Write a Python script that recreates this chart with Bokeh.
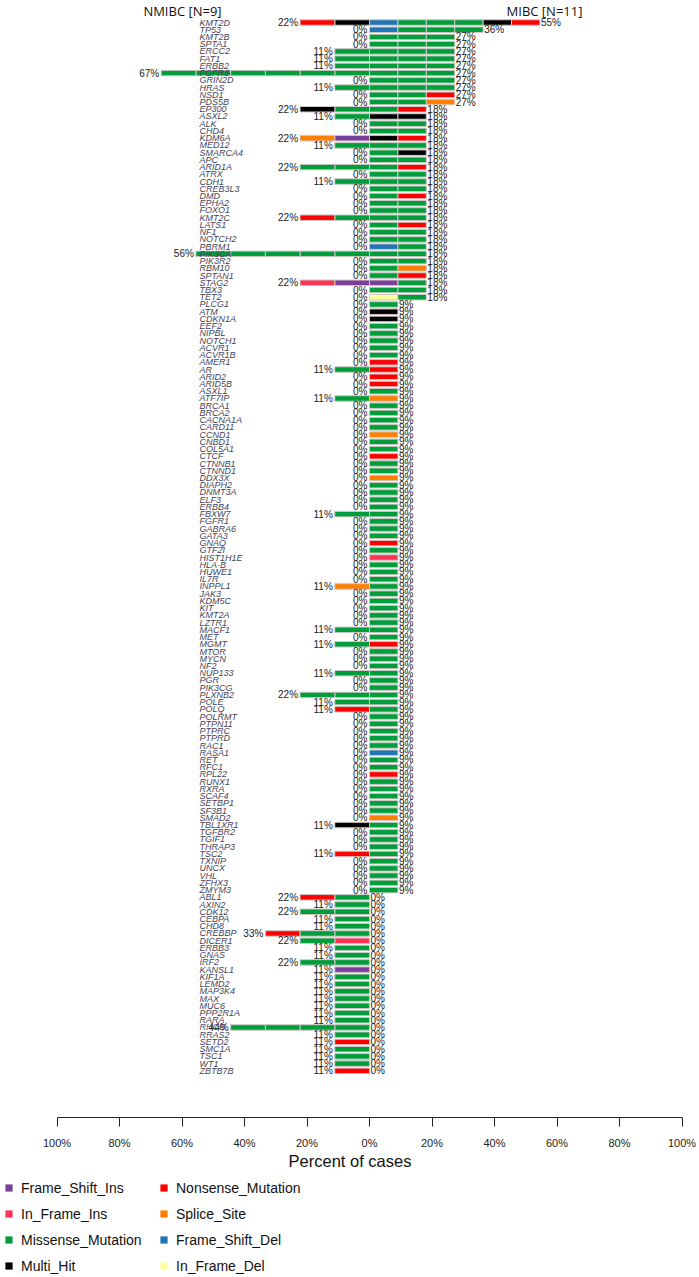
from bokeh.plotting import figure
from bokeh.layouts import column
from bokeh.models import ColumnDataSource, Range1d, LinearAxis, FixedTicker, Legend, LegendItem
from bokeh.core.properties import value
from bokeh.embed import file_html
from bokeh.resources import INLINE

# ---------------- data ----------------
genes = ["KMT2D", "TP53", "KMT2B", "SPTA1", "ERCC2", "FAT1", "ERBB2", "FGFR3", "GRIN2D", "HRAS", "NSD1", "PDS5B",
         "EP300", "ASXL2", "ALK", "CHD4", "KDM6A", "MED12", "SMARCA4", "APC", "ARID1A", "ATRX", "CDH1", "CREB3L3",
         "DMD", "EPHA2", "FOXO1", "KMT2C", "LATS1", "NF1", "NOTCH2", "PBRM1", "PIK3CA", "PIK3R2", "RBM10", "SPTAN1",
         "STAG2", "TBX3", "TET2", "PLCG1", "ATM", "CDKN1A", "EEF2", "NIPBL", "NOTCH1", "ACVR1", "ACVR1B", "AMER1",
         "AR", "ARID2", "ARID5B", "ASXL1", "ATF7IP", "BRCA1", "BRCA2", "CACNA1A", "CARD11", "CCND1", "CNBD1", "COL5A1",
         "CTCF", "CTNNB1", "CTNND1", "DDX3X", "DIAPH2", "DNMT3A", "ELF3", "ERBB4", "FBXW7", "FGFR1", "GABRA6", "GATA3",
         "GNAQ", "GTF2I", "HIST1H1E", "HLA-B", "HUWE1", "IL7R", "INPPL1", "JAK3", "KDM5C", "KIT", "KMT2A", "LZTR1",
         "MACF1", "MET", "MGMT", "MTOR", "MYCN", "NF2", "NUP133", "PGR", "PIK3CG", "PLXNB2", "POLE", "POLQ",
         "POLRMT", "PTPN11", "PTPRC", "PTPRD", "RAC1", "RASA1", "RET", "RFC1", "RPL22", "RUNX1", "RXRA", "SCAF4",
         "SETBP1", "SF3B1", "SMAD2", "TBL1XR1", "TGFBR2", "TGIF1", "THRAP3", "TSC2", "TXNIP", "UNCX", "VHL", "ZFHX3",
         "ZMYM3", "ABL1", "AXIN2", "CDK12", "CEBPA", "CHD8", "CREBBP", "DICER1", "ERBB3", "GNAS", "IRF2", "KANSL1",
         "KIF1A", "LEMD2", "MAP3K4", "MAX", "MUC6", "PPP2R1A", "RARA", "RHOB", "RRAS2", "SETD2", "SMC1A", "TSC1", "WT1", "ZBTB7B"]

# one letter per mutated sample, listed from the centre outwards
# G Missense, R Nonsense, K Multi_Hit, B Frame_Shift_Del, O Splice_Site, P Frame_Shift_Ins, I In_Frame_Ins, Y In_Frame_Del
nmibc = ["KR", "", "", "", "G", "G", "G", "GGGGGG", "", "G", "", "",
         "GK", "G", "", "", "PO", "G", "", "", "GG", "", "G", "",
         "", "", "", "GR", "", "", "", "", "GGGGG", "", "", "",
         "PI", "", "", "", "", "", "", "", "", "", "", "",
         "G", "", "", "", "G", "", "", "", "", "", "", "",
         "", "", "", "", "", "", "", "", "G", "", "", "",
         "", "", "", "", "", "", "O", "", "", "", "", "",
         "G", "", "G", "", "", "", "G", "", "", "GG", "G", "R",
         "", "", "", "", "", "", "", "", "", "", "", "",
         "", "", "", "K", "", "", "", "R", "", "", "", "",
         "", "GR", "G", "GG", "G", "G", "GGR", "IG", "G", "G", "GG", "P",
         "G", "G", "G", "G", "G", "G", "G", "GGGG", "G", "R", "G", "G", "G", "R"]

mibc = ["BGGGKR", "BGGG", "GGG", "GGG", "GGG", "GGG", "GGG", "GGG", "GGG", "GGG", "GGR", "GGO",
        "GR", "KK", "GG", "GG", "KR", "GG", "GK", "GG", "GR", "GG", "GG", "GG",
        "GR", "GG", "GG", "GG", "GR", "GG", "GG", "BG", "GG", "GG", "GO", "GR",
        "PG", "GG", "YG", "G", "K", "K", "G", "G", "G", "G", "G", "R",
        "R", "R", "R", "G", "O", "G", "G", "G", "G", "O", "G", "G",
        "R", "G", "G", "O", "G", "G", "G", "G", "G", "G", "G", "G",
        "R", "G", "I", "G", "G", "G", "G", "G", "G", "G", "G", "G",
        "G", "G", "R", "G", "G", "G", "G", "G", "G", "G", "G", "G",
        "G", "G", "G", "G", "G", "B", "G", "G", "R", "G", "G", "G",
        "G", "G", "O", "G", "G", "G", "G", "G", "G", "G", "G", "G",
        "G", "", "", "", "", "", "", "", "", "", "", "",
        "", "", "", "", "", "", "", "", "", "", "", "", "", ""]

N_NMIBC = 9
N_MIBC = 11

code_type = {"P": "Frame_Shift_Ins", "I": "In_Frame_Ins", "G": "Missense_Mutation", "K": "Multi_Hit",
             "R": "Nonsense_Mutation", "O": "Splice_Site", "B": "Frame_Shift_Del", "Y": "In_Frame_Del"}
legend_order = ["Frame_Shift_Ins", "In_Frame_Ins", "Missense_Mutation", "Multi_Hit",
                "Nonsense_Mutation", "Splice_Site", "Frame_Shift_Del", "In_Frame_Del"]
type_color = {"Frame_Shift_Ins": "#7B3F9B", "In_Frame_Ins": "#FF3355", "Missense_Mutation": "#009E3A",
              "Multi_Hit": "#000000", "Nonsense_Mutation": "#FF0000", "Splice_Site": "#FF7F00",
              "Frame_Shift_Del": "#1F75B5", "In_Frame_Del": "#FFFF99"}

tick_values = [-100, -80, -60, -40, -20, 0, 20, 40, 60, 80, 100]
tick_labels = ["100%", "80%", "60%", "40%", "20%", "0%", "20%", "40%", "60%", "80%", "100%"]

# ---------------- layout constants ----------------
ROW_PX = 7.23
FRAME_W, FRAME_H = 699, 1117
X_ZERO_PX = 369
PX_PER_PCT = 3.125
TOP_PAD_ROWS = 22 / ROW_PX
GENE_LABEL_PX = 199
FONT = "Liberation Sans"

p = figure(frame_width=FRAME_W, frame_height=FRAME_H,
           x_range=Range1d(-X_ZERO_PX / PX_PER_PCT, (FRAME_W - X_ZERO_PX) / PX_PER_PCT),
           y_range=Range1d(FRAME_H / ROW_PX - TOP_PAD_ROWS, -TOP_PAD_ROWS),
           x_axis_type=None, y_axis_type=None, output_backend="svg", toolbar_location=None,
           min_border=0, outline_line_color=None)

# segments
seg = dict(y=[], left=[], right=[], color=[])
wn = 100.0 / N_NMIBC
wm = 100.0 / N_MIBC
for i in range(len(genes)):
    for j, c in enumerate(nmibc[i]):
        seg["y"].append(i); seg["left"].append(-(j + 1) * wn); seg["right"].append(-j * wn)
        seg["color"].append(type_color[code_type[c]])
    for j, c in enumerate(mibc[i]):
        seg["y"].append(i); seg["left"].append(j * wm); seg["right"].append((j + 1) * wm)
        seg["color"].append(type_color[code_type[c]])

p.hbar(y="y", left="left", right="right", height=0.76, fill_color="color",
       line_color="#CFC6C6", line_width=1, source=ColumnDataSource(seg))

# percentage labels
rows = list(range(len(genes)))
left_x = [-len(s) * wn for s in nmibc]
right_x = [len(s) * wm for s in mibc]
left_txt = ["%d%%" % round(100 * len(s) / N_NMIBC) for s in nmibc]
right_txt = ["%d%%" % round(100 * len(s) / N_MIBC) for s in mibc]

p.text(x=left_x, y=rows, text=left_txt, text_align="right", text_baseline="middle", x_offset=-2,
       text_font=value(FONT), text_font_size="10px", text_color="#222222")
p.text(x=right_x, y=rows, text=right_txt, text_align="left", text_baseline="middle", x_offset=1,
       text_font=value(FONT), text_font_size="10px", text_color="#222222")

# gene labels
gx = (GENE_LABEL_PX - X_ZERO_PX) / PX_PER_PCT
p.text(x=[gx] * len(genes), y=rows, text=genes, text_align="left", text_baseline="middle",
       text_font=value(FONT), text_font_size="9px", text_font_style="italic", text_color="#44445a")

# group titles
title_y = -TOP_PAD_ROWS + 1 / ROW_PX
p.text(x=[(182 - X_ZERO_PX) / PX_PER_PCT, (544 - X_ZERO_PX) / PX_PER_PCT], y=[title_y] * 2,
       text=["NMIBC [N=%d]" % N_NMIBC, "MIBC [N=%d]" % N_MIBC], text_align="center", text_baseline="top",
       text_font=value("Open Sans"), text_font_size="13px", text_color="#111111")

# axis
ax = LinearAxis(ticker=FixedTicker(ticks=tick_values), bounds=(-100, 100),
                major_label_overrides={v: l for v, l in zip(tick_values, tick_labels)},
                axis_label="Percent of cases")
ax.major_tick_out = 9
ax.major_tick_in = 0
ax.minor_tick_out = 0
ax.minor_tick_in = 0
ax.major_label_standoff = 10
ax.axis_label_standoff = 0
ax.major_label_text_font = FONT
ax.major_label_text_font_size = "11px"
ax.major_label_text_color = "#222222"
ax.axis_label_text_font = FONT
ax.axis_label_text_font_size = "16.5px"
ax.axis_label_text_font_style = "normal"
ax.axis_label_text_color = "#111111"
ax.axis_line_color = "#222222"
ax.major_tick_line_color = "#222222"
p.add_layout(ax, "below")

# legend in its own strip under the chart
LEG_H = 103
p2 = figure(width=FRAME_W, height=LEG_H, x_range=Range1d(0, FRAME_W), y_range=Range1d(0, LEG_H),
            x_axis_type=None, y_axis_type=None, output_backend="svg", toolbar_location=None,
            min_border=0, outline_line_color=None)
items = []
for t in legend_order:
    r = p2.hbar(y=[float("nan")], left=[0], right=[0], height=0.5, fill_color=type_color[t], line_color=None)
    items.append(LegendItem(label=t, renderers=[r]))
legend = Legend(items=items, orientation="vertical", nrows=4, location=(4, 0),
                glyph_width=9, glyph_height=9, label_standoff=8, label_width=131, label_height=19,
                spacing=7, padding=0, margin=0, border_line_color=None, background_fill_alpha=0,
                label_text_font=FONT, label_text_font_size="14px", label_text_color="#111111")
p2.add_layout(legend, "center")

layout = column(p, p2, spacing=0)
open("out.html", "w").write(file_html(layout, INLINE))
